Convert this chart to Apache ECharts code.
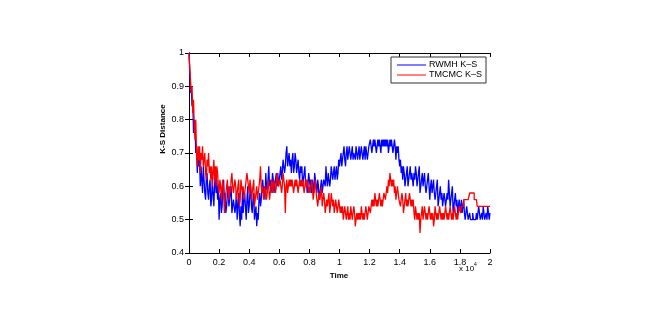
<!DOCTYPE html>
<html><head><meta charset="utf-8">
<script src="https://cdn.jsdelivr.net/npm/echarts@6/dist/echarts.min.js"></script>
<style>html,body{margin:0;padding:0;background:#fff}#c{width:667px;height:314px}</style>
</head><body><div id="c"></div>
<script>
const xStep = 50;
const xTicks = [0, 2000, 4000, 6000, 8000, 10000, 12000, 14000, 16000, 18000, 20000];
const yTicks = [0.4, 0.5, 0.6, 0.7, 0.8, 0.9, 1];
const seriesNames = ['RWMH K\u2013S', 'TMCMC K\u2013S'];
const rwmh = [
1.0,0.94,0.88,0.90,0.84,0.86,0.76,0.80,0.78,0.70, 0.72,0.64,0.70,0.66,0.68,0.60,0.66,0.62,0.58,0.66,
0.62,0.58,0.56,0.62,0.64,0.58,0.56,0.60,0.62,0.54, 0.56,0.62,0.58,0.54,0.60,0.64,0.58,0.62,0.56,0.60,
0.50,0.56,0.58,0.52,0.54,0.60,0.62,0.56,0.58,0.52, 0.54,0.58,0.60,0.54,0.56,0.58,0.60,0.52,0.54,0.56,
0.56,0.52,0.54,0.58,0.50,0.54,0.58,0.52,0.48,0.54, 0.50,0.58,0.52,0.56,0.58,0.54,0.50,0.56,0.60,0.52,
0.54,0.58,0.60,0.54,0.52,0.56,0.58,0.50,0.52,0.54, 0.48,0.52,0.50,0.56,0.58,0.54,0.56,0.60,0.62,0.58,
0.60,0.56,0.64,0.60,0.58,0.62,0.66,0.60,0.62,0.58, 0.60,0.64,0.62,0.58,0.60,0.62,0.64,0.60,0.64,0.60,
0.60,0.64,0.66,0.62,0.64,0.68,0.66,0.64,0.66,0.70, 0.72,0.66,0.68,0.70,0.66,0.68,0.64,0.68,0.70,0.64,
0.66,0.70,0.68,0.64,0.66,0.68,0.64,0.62,0.66,0.64, 0.66,0.60,0.62,0.64,0.66,0.60,0.62,0.58,0.60,0.64,
0.64,0.60,0.62,0.58,0.62,0.60,0.58,0.64,0.62,0.60, 0.58,0.62,0.60,0.56,0.58,0.60,0.62,0.58,0.60,0.62,
0.62,0.60,0.66,0.62,0.60,0.64,0.62,0.60,0.62,0.66, 0.64,0.62,0.64,0.66,0.62,0.64,0.66,0.62,0.64,0.68,
0.66,0.68,0.70,0.66,0.68,0.70,0.72,0.68,0.66,0.70, 0.72,0.68,0.70,0.72,0.70,0.68,0.70,0.72,0.68,0.70,
0.70,0.68,0.72,0.70,0.68,0.70,0.72,0.68,0.70,0.72, 0.70,0.68,0.70,0.72,0.68,0.72,0.70,0.68,0.70,0.72,
0.72,0.74,0.72,0.70,0.72,0.74,0.72,0.74,0.72,0.70, 0.72,0.74,0.72,0.74,0.72,0.70,0.74,0.72,0.74,0.72,
0.74,0.72,0.74,0.72,0.74,0.70,0.72,0.74,0.72,0.74, 0.72,0.70,0.72,0.74,0.72,0.68,0.72,0.70,0.72,0.68,
0.66,0.68,0.64,0.66,0.62,0.66,0.64,0.60,0.62,0.64, 0.66,0.60,0.62,0.64,0.66,0.62,0.64,0.62,0.60,0.64,
0.62,0.66,0.64,0.60,0.62,0.64,0.66,0.58,0.60,0.62, 0.64,0.60,0.62,0.64,0.60,0.58,0.60,0.62,0.64,0.60,
0.56,0.60,0.62,0.58,0.60,0.62,0.58,0.56,0.58,0.60, 0.62,0.54,0.56,0.58,0.60,0.56,0.58,0.54,0.56,0.58,
0.58,0.54,0.56,0.58,0.56,0.62,0.58,0.54,0.56,0.58, 0.60,0.52,0.54,0.56,0.58,0.54,0.56,0.52,0.54,0.56,
0.54,0.52,0.56,0.52,0.54,0.56,0.52,0.50,0.52,0.54, 0.52,0.50,0.50,0.52,0.50,0.50,0.50,0.52,0.50,0.50,
0.50,0.50,0.52,0.50,0.50,0.54,0.52,0.50,0.50,0.52, 0.50,0.54,0.52,0.50,0.50,0.52,0.50,0.54,0.52,0.50,
0.52];
const tmcmc = [
1.0,0.96,0.92,0.88,0.90,0.82,0.86,0.78,0.74,0.80, 0.70,0.66,0.72,0.68,0.72,0.64,0.70,0.68,0.72,0.66,
0.66,0.70,0.64,0.62,0.68,0.66,0.70,0.64,0.66,0.62, 0.66,0.60,0.64,0.68,0.62,0.66,0.60,0.66,0.64,0.60,
0.58,0.62,0.60,0.56,0.60,0.62,0.58,0.52,0.56,0.58, 0.60,0.62,0.58,0.56,0.60,0.58,0.62,0.64,0.60,0.58,
0.58,0.62,0.60,0.56,0.58,0.60,0.62,0.54,0.56,0.62, 0.60,0.58,0.60,0.56,0.58,0.60,0.62,0.64,0.62,0.60,
0.58,0.62,0.60,0.56,0.58,0.60,0.62,0.54,0.56,0.58, 0.60,0.56,0.58,0.60,0.62,0.66,0.60,0.58,0.60,0.56,
0.56,0.60,0.58,0.56,0.58,0.62,0.60,0.56,0.58,0.60, 0.62,0.58,0.60,0.62,0.60,0.58,0.60,0.64,0.62,0.60,
0.60,0.62,0.60,0.58,0.60,0.64,0.62,0.60,0.52,0.60, 0.62,0.58,0.60,0.62,0.60,0.62,0.60,0.62,0.60,0.58,
0.60,0.62,0.60,0.62,0.60,0.58,0.60,0.62,0.60,0.62, 0.60,0.62,0.60,0.58,0.60,0.62,0.60,0.62,0.60,0.58,
0.60,0.58,0.60,0.62,0.60,0.56,0.58,0.60,0.62,0.58, 0.56,0.54,0.56,0.58,0.56,0.58,0.60,0.54,0.56,0.58,
0.56,0.52,0.54,0.56,0.54,0.56,0.58,0.52,0.54,0.58, 0.56,0.54,0.56,0.52,0.54,0.56,0.54,0.52,0.54,0.56,
0.56,0.52,0.54,0.52,0.54,0.50,0.52,0.54,0.52,0.50, 0.52,0.54,0.50,0.52,0.50,0.54,0.52,0.50,0.52,0.54,
0.52,0.48,0.50,0.52,0.50,0.52,0.50,0.52,0.50,0.54, 0.52,0.50,0.52,0.50,0.52,0.54,0.52,0.50,0.52,0.54,
0.54,0.52,0.54,0.56,0.54,0.56,0.54,0.58,0.56,0.54, 0.56,0.54,0.56,0.58,0.56,0.54,0.56,0.54,0.56,0.58,
0.58,0.56,0.58,0.60,0.58,0.62,0.60,0.64,0.62,0.60, 0.62,0.60,0.62,0.58,0.60,0.56,0.58,0.60,0.58,0.56,
0.56,0.54,0.56,0.58,0.56,0.52,0.54,0.56,0.58,0.54, 0.56,0.54,0.56,0.58,0.56,0.54,0.56,0.54,0.56,0.52,
0.50,0.54,0.52,0.50,0.52,0.50,0.52,0.46,0.50,0.52, 0.54,0.50,0.52,0.54,0.52,0.50,0.52,0.50,0.52,0.54,
0.54,0.50,0.52,0.50,0.52,0.48,0.50,0.54,0.52,0.50, 0.52,0.50,0.52,0.54,0.52,0.50,0.52,0.50,0.52,0.50,
0.50,0.54,0.52,0.50,0.52,0.50,0.52,0.54,0.52,0.50, 0.52,0.50,0.52,0.54,0.52,0.50,0.52,0.50,0.52,0.54,
0.54,0.52,0.54,0.54,0.54,0.56,0.56,0.56,0.56,0.56, 0.56,0.56,0.56,0.58,0.58,0.58,0.58,0.58,0.58,0.56,
0.56,0.56,0.56,0.54,0.54,0.54,0.54,0.54,0.54,0.54, 0.54,0.54,0.54,0.54,0.54,0.54,0.54,0.54,0.54,0.54,
0.54];

const toPairs = arr => arr.map((v, i) => [i * xStep, v]);
const FONT = 'Liberation Sans';
const chart = echarts.init(document.getElementById('c'));
const xBase = {type:'value', min:xTicks[0], max:xTicks[xTicks.length-1], interval:2000,
  axisLine:{show:true, lineStyle:{color:'#000', width:1}}, splitLine:{show:false},
  axisTick:{show:true, inside:true, length:4, lineStyle:{color:'#000'}}};
const yBase = {type:'value', min:yTicks[0], max:yTicks[yTicks.length-1], interval:0.1,
  axisLine:{show:true, lineStyle:{color:'#000', width:1}}, splitLine:{show:false},
  axisTick:{show:true, inside:true, length:4, lineStyle:{color:'#000'}}};
chart.setOption({
  animation:false,
  backgroundColor:'#fff',
  grid:{left:189, right:177, top:53, bottom:61},
  xAxis:[
    Object.assign({}, xBase, {position:'bottom', axisLabel:{color:'#000', fontFamily:FONT, fontSize:9, margin:5,
      formatter:v => String(+(v/10000).toFixed(1))}}),
    Object.assign({}, xBase, {position:'top', axisLabel:{show:false}})
  ],
  yAxis:[
    Object.assign({}, yBase, {position:'left', axisLabel:{color:'#000', fontFamily:FONT, fontSize:9, margin:5,
      formatter:v => String(+v.toFixed(1))}}),
    Object.assign({}, yBase, {position:'right', axisLabel:{show:false}})
  ],
  legend:{
    orient:'vertical', right:181, top:57, data:seriesNames,
    icon:'rect',
    backgroundColor:'#fff', borderColor:'#333', borderWidth:1, borderRadius:0,
    padding:[3,4,3,6], itemGap:0, itemWidth:29, itemHeight:1,
    textStyle:{fontFamily:FONT, fontSize:9, color:'#000', lineHeight:10, padding:[0,0,0,-2]}
  },
  graphic:[
    {type:'text', x:163, y:129, rotation:Math.PI/2, style:{text:'K-S Distance', font:'bold 8px "Liberation Sans"', fill:'#000', textAlign:'center', textVerticalAlign:'middle'}},
    {type:'text', x:339, y:276, style:{text:'Time', font:'bold 8px "Liberation Sans"', fill:'#000', textAlign:'center', textVerticalAlign:'middle'}},
    {type:'text', x:459, y:269, style:{text:'x 10', font:'8px "Liberation Sans"', fill:'#000', textAlign:'left', textVerticalAlign:'middle'}},
    {type:'text', x:474, y:265, style:{text:'4', font:'5px "Liberation Sans"', fill:'#000', textAlign:'left', textVerticalAlign:'middle'}}
  ],
  series:[
    {name:seriesNames[0], type:'line', step:'end', data:toPairs(rwmh), showSymbol:false, symbol:'none',
      lineStyle:{color:'#0000ff', width:1.3}, itemStyle:{color:'#0000ff'}},
    {name:seriesNames[1], type:'line', step:'end', data:toPairs(tmcmc), showSymbol:false, symbol:'none',
      lineStyle:{color:'#ff0000', width:1.3}, itemStyle:{color:'#ff0000'}}
  ]
});
</script></body></html>
